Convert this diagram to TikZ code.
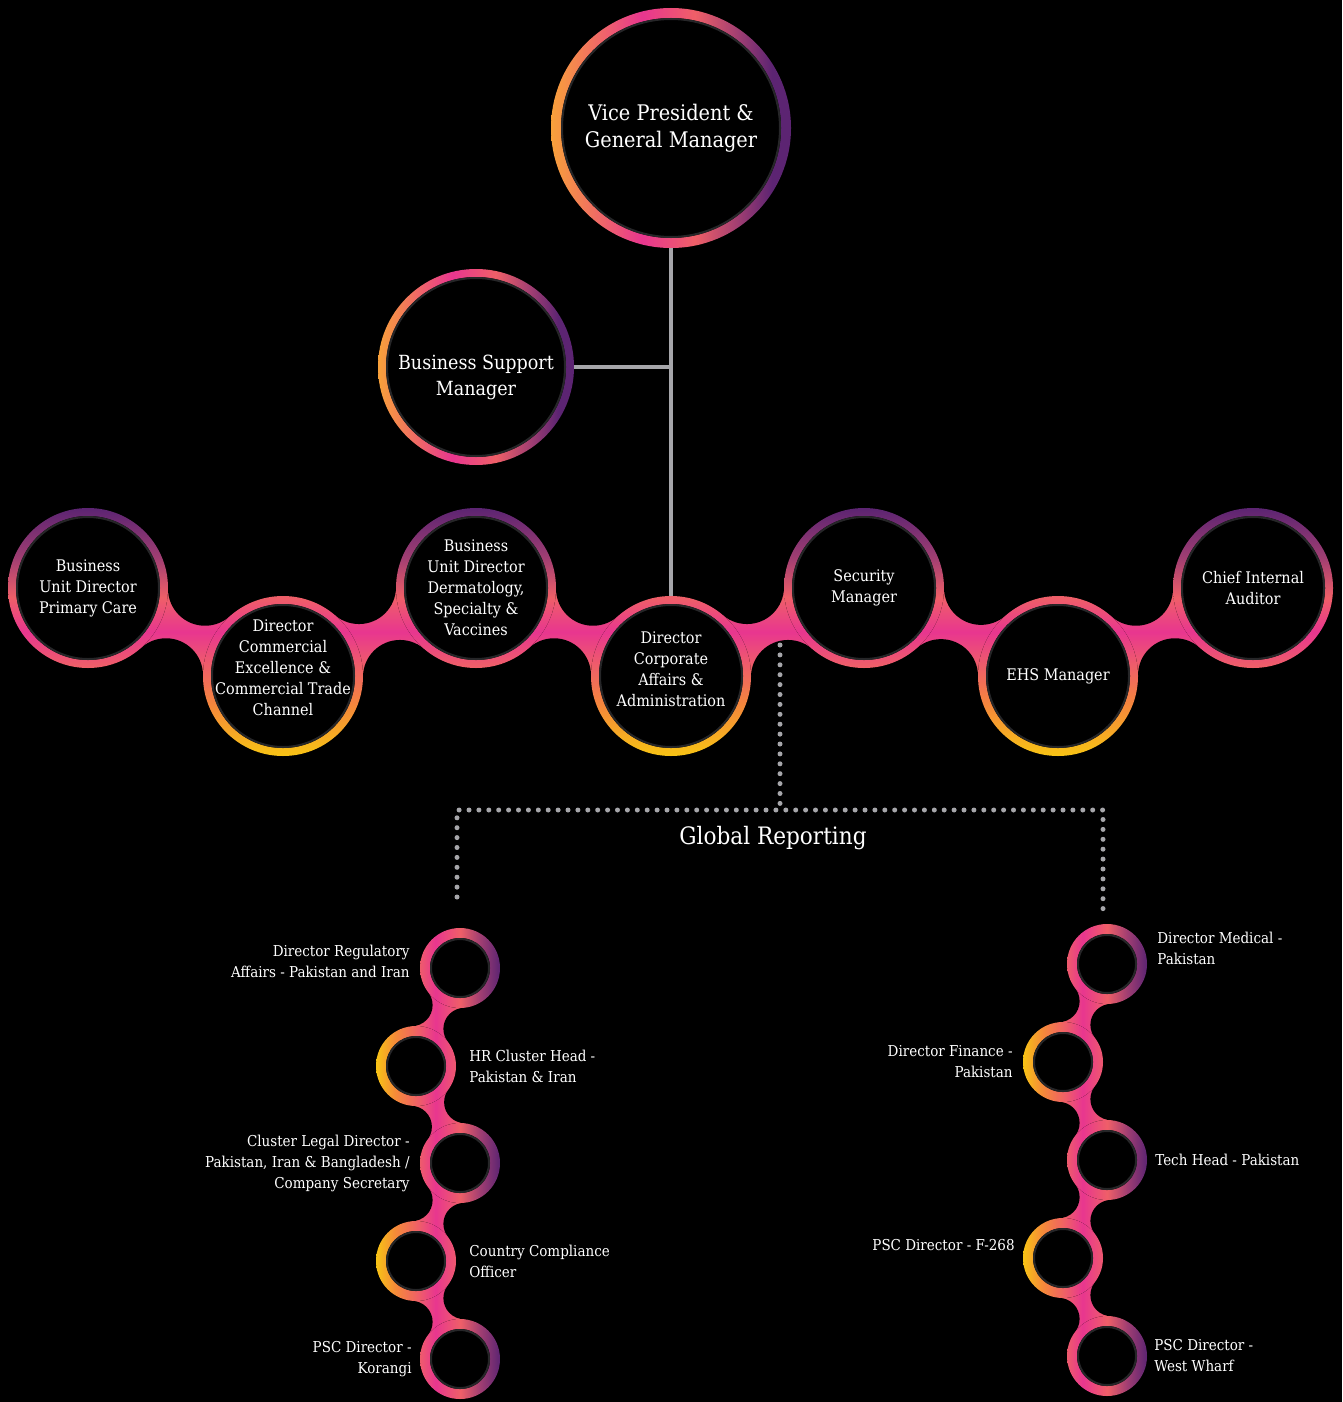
\documentclass[tikz,border=0pt]{standalone}
\usepackage{fontspec}
\setmainfont{DejaVu Serif Condensed}
\usetikzlibrary{calc,positioning,backgrounds}

\definecolor{ringpurple}{HTML}{5C2472}
\definecolor{ringmauve}{HTML}{A03E72}
\definecolor{ringcoral}{HTML}{EF5F68}
\definecolor{ringpink}{HTML}{E8368F}
\definecolor{ringorange}{HTML}{F5893A}
\definecolor{ringamber}{HTML}{F8A13A}
\definecolor{ringyellow}{HTML}{F8C414}
\definecolor{ringedge}{HTML}{262628}
\definecolor{stemgray}{HTML}{A6A6AA}

% middle row, bottom (25bp) to top (75bp)
\pgfdeclareverticalshading{midrow}{100bp}{color(0bp)=(ringyellow); color(25bp)=(ringyellow); color(35bp)=(ringorange); color(43bp)=(ringcoral); color(50bp)=(ringpink); color(57bp)=(ringcoral); color(65bp)=(ringmauve); color(75bp)=(ringpurple); color(100bp)=(ringpurple)}
% lower chains, left to right
\pgfdeclarehorizontalshading{lowrow}{100bp}{color(0bp)=(ringyellow); color(25bp)=(ringyellow); color(33bp)=(ringorange); color(42bp)=(ringcoral); color(49bp)=(ringpink); color(59bp)=(ringcoral); color(67bp)=(ringmauve); color(75bp)=(ringpurple); color(100bp)=(ringpurple)}
% the two top circles
\pgfdeclarehorizontalshading{topring}{100bp}{color(0bp)=(ringamber); color(25bp)=(ringamber); color(44bp)=(ringpink); color(55bp)=(ringcoral); color(64bp)=(ringmauve); color(71bp)=(ringpurple); color(100bp)=(ringpurple)}

% fillet centres between two circles (names, ring radius, fillet radius)
\newcommand{\neckpts}[4]{%
  \path let \p1=(#1.center), \p2=(#2.center),
    \n1={5*veclen((\x2-\x1)/10,(\y2-\y1)/10)},
    \n2={10*sqrt(((#3+#4)/10)^2-(\n1/10)^2)} in
    coordinate (#1#2a) at ($(#1.center)!0.5!(#2.center)!\n2!90:(#2.center)$)
    coordinate (#1#2b) at ($(#1.center)!0.5!(#2.center)!\n2!-90:(#2.center)$);}
% coloured ring with black centre (node, paint, outer, inner)
\newcommand{\rolering}[4]{%
  \fill[#2] (#1.center) circle[radius=#3pt];
  \fill[black] (#1.center) circle[radius=#4pt];
  \draw[ringedge, line width=2pt] (#1.center) circle[radius=#4pt-1pt];}

\begin{document}
\begin{tikzpicture}[x=1pt, y=-1pt,
  hub/.style={circle, inner sep=0pt, minimum size=#1, text=white, align=center},
  midfont/.style={font=\fontsize{16}{21}\selectfont},
  tagl/.style={text=white, inner sep=0pt, align=right, font=\fontsize{15}{21}\selectfont},
  tagr/.style={tagl, align=left},
  toppaint/.style={shade, shading=topring},
  midpaint/.style={path picture={\shade[shading=midrow] (0,508) rectangle (1342,756);}},
  lowpaint/.style={path picture={\shade[shading=lowrow] (#1,900) rectangle ++(124,510);}},
  stem/.style={draw=stemgray, line width=4pt},
  gdots/.style={draw=stemgray, line width=5pt, line cap=round, dash pattern=on 0pt off 9.9pt}]

% top
\node[hub=240pt, font=\fontsize{21.5}{27}\selectfont] (vp) at (671,128) {Vice President \&\\General Manager};
\node[hub=196pt, font=\fontsize{19.5}{26}\selectfont] (bsm) at (476,367) {\mbox{}\\[9pt]Business Support\\Manager};

% middle row
\node[hub=160pt, midfont] (bupc) at (88,588) {Business\\Unit Director\\Primary Care};
\node[hub=160pt, midfont] (dce) at (283,676) {Director\\Commercial\\Excellence \&\\Commercial Trade\\Channel\\[-5pt]};
\node[hub=160pt, midfont] (bud) at (476,588) {Business\\Unit Director\\Dermatology,\\Specialty \&\\Vaccines};
\node[hub=160pt, midfont] (dca) at (671,676) {Director\\Corporate\\Affairs \&\\Administration\\[-8pt]};
\node[hub=160pt, midfont] (sec) at (864,588) {Security\\Manager};
\node[hub=160pt, midfont] (ehs) at (1058,676) {EHS Manager};
\node[hub=160pt, midfont] (cia) at (1253,588) {Chief Internal\\Auditor};

% global reporting
\coordinate (grtop) at (780,645);
\coordinate (grbar) at (780,810);
\coordinate (grl) at (457,810);
\coordinate (grr) at (1103,810);
\coordinate (grlend) at (457,897);
\coordinate (grrend) at (1103,910);
\node[text=white, font=\fontsize{24}{28}\selectfont] (grlab) at (773,838) {Global Reporting};

% lower chains
\node[hub=80pt] (dra) at (460,968) {};
\node[hub=80pt] (hrc) at (416,1066) {};
\node[hub=80pt] (cld) at (460,1163) {};
\node[hub=80pt] (cco) at (416,1261) {};
\node[hub=80pt] (pko) at (460,1359) {};
\node[hub=80pt] (dme) at (1107,964) {};
\node[hub=80pt] (dfi) at (1063,1062) {};
\node[hub=80pt] (tch) at (1107,1160) {};
\node[hub=80pt] (fsc) at (1063,1258) {};
\node[hub=80pt] (wwh) at (1107,1356) {};

\node[tagl, left=10pt of dra, yshift=7pt] (dratxt) {Director Regulatory\\Affairs - Pakistan and Iran};
\node[tagr, right=13pt of hrc] (hrctxt) {HR Cluster Head -\\Pakistan \& Iran};
\node[tagl, left=10pt of cld] (cldtxt) {Cluster Legal Director -\\Pakistan, Iran \& Bangladesh /\\Company Secretary};
\node[tagr, right=13pt of cco] (ccotxt) {Country Compliance\\Officer};
\node[tagl, left=8pt of pko] (pkotxt) {PSC Director -\\Korangi};
\node[tagr, right=10pt of dme, yshift=16pt] (dmetxt) {Director Medical -\\Pakistan};
\node[tagl, left=10pt of dfi] (dfitxt) {Director Finance -\\Pakistan};
\node[tagr, right=8pt of tch] (tchtxt) {Tech Head - Pakistan};
\node[tagl, left=8pt of fsc, yshift=13pt] (fsctxt) {PSC Director - F-268};
\node[tagr, right=7pt of wwh] (wwhtxt) {PSC Director -\\West Wharf};

\begin{scope}[on background layer]
  \fill[black] (0,0) rectangle (1342,1402);
  % pink chain of the middle row
  \foreach \a/\b in {bupc/dce, dce/bud, bud/dca, dca/sec, sec/ehs, ehs/cia}
    {\neckpts{\a}{\b}{80}{37}
     \fill[midpaint] (\a.center) -- (\a\b a) -- (\b.center) -- (\a\b b) -- cycle;}
  \foreach \a/\b in {bupc/dce, dce/bud, bud/dca, dca/sec, sec/ehs, ehs/cia}
    \fill[black] (\a\b a) circle[radius=37pt] (\a\b b) circle[radius=37pt];
  \foreach \n in {bupc, dce, bud, dca, sec, ehs, cia}
    {\rolering{\n}{midpaint}{80}{72}}
  % lower chains
  \foreach \a/\b/\x in {dra/hrc/376, hrc/cld/376, cld/cco/376, cco/pko/376,
                        dme/dfi/1023, dfi/tch/1023, tch/fsc/1023, fsc/wwh/1023}
    {\neckpts{\a}{\b}{40}{21}
     \fill[lowpaint=\x] (\a.center) -- (\a\b a) -- (\b.center) -- (\a\b b) -- cycle;}
  \foreach \a/\b in {dra/hrc, hrc/cld, cld/cco, cco/pko, dme/dfi, dfi/tch, tch/fsc, fsc/wwh}
    \fill[black] (\a\b a) circle[radius=21pt] (\a\b b) circle[radius=21pt];
  \foreach \n in {dra, hrc, cld, cco, pko}
    {\rolering{\n}{lowpaint=376}{40}{30}}
  \foreach \n in {dme, dfi, tch, fsc, wwh}
    {\rolering{\n}{lowpaint=1023}{40}{30}}
  % top circles
  \rolering{vp}{toppaint}{120}{110}
  \rolering{bsm}{toppaint}{98}{90}
  % connectors
  \draw[stem] (vp) -- (dca);
  \draw[stem] (bsm) -- (bsm -| vp);
  \draw[gdots] (grtop) -- (grbar);
  \draw[gdots] (grlend) -- (grl) -- (grr) -- (grrend);
\end{scope}
\end{tikzpicture}
\end{document}
